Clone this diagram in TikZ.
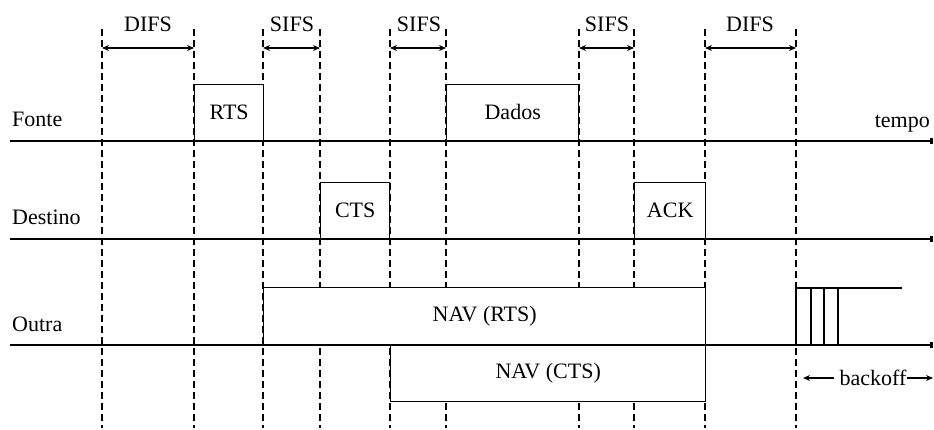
\documentclass[tikz,border=0pt]{standalone}
\usepackage{fontspec}
\setmainfont{Liberation Serif}
\usetikzlibrary{arrows.meta}
\begin{document}
\begin{tikzpicture}[x=1pt,y=-1pt,
  lbl/.style={font=\fontsize{22}{26}\selectfont, inner sep=0pt},
  dashline/.style={line width=1.3pt, dash pattern=on 7pt off 4pt},
  tline/.style={line width=1.4pt, -{Square[length=3pt,width=6pt]}},
  box/.style={draw, line width=1.4pt, fill=white, inner sep=0pt, font=\fontsize{22}{26}\selectfont},
  dim/.style={line width=1.2pt, {Stealth[length=7pt,width=6pt]}-{Stealth[length=7pt,width=6pt]}},
  bkarrow/.style={line width=1.2pt, -{Stealth[length=7pt,width=6pt]}}]
\useasboundingbox (0,0) rectangle (934,430);
% dashed time marks
\foreach \x [count=\i] in {102,194,263,320,390,446,579,634,705,796} {
  \coordinate (top\i) at (\x,29);
  \coordinate (bot\i) at (\x,428);
  \coordinate (d\i) at (\x,48);
  \draw[dashline] (top\i) -- (bot\i);
}
% interval dimension arrows
\draw[dim] (d1) -- (d2);
\draw[dim] (d3) -- (d4);
\draw[dim] (d5) -- (d6);
\draw[dim] (d7) -- (d8);
\draw[dim] (d9) -- (d10);
\node[lbl, anchor=base] (difs1) at (148,32) {DIFS};
\node[lbl, anchor=base] (sifs1) at (292,32) {SIFS};
\node[lbl, anchor=base] (sifs2) at (419,32) {SIFS};
\node[lbl, anchor=base] (sifs3) at (607,32) {SIFS};
\node[lbl, anchor=base] (difs2) at (750,32) {DIFS};
% timelines
\coordinate (fs) at (10,141); \coordinate (fe) at (933,141);
\coordinate (ds) at (10,239); \coordinate (de) at (933,239);
\coordinate (os) at (10,345); \coordinate (oe) at (933,345);
\draw[tline] (fs) -- (fe);
\draw[tline] (ds) -- (de);
\draw[tline] (os) -- (oe);
\node[lbl, anchor=base west] (fonte) at (12,127) {Fonte};
\node[lbl, anchor=base west] (destino) at (12,225) {Destino};
\node[lbl, anchor=base west] (outra) at (12,331) {Outra};
\node[lbl, anchor=base east] (tempo) at (930,128) {tempo};
% frames
\node[box, minimum width=69pt, minimum height=56pt, anchor=south west] (rts) at (194,141) {RTS};
\node[box, minimum width=132pt, minimum height=56pt, anchor=south west] (dados) at (446,141) {Dados};
\node[box, minimum width=69pt, minimum height=56pt, anchor=south west] (cts) at (320,239) {CTS};
\node[box, minimum width=71pt, minimum height=56pt, anchor=south west] (ack) at (634,239) {ACK};
\node[box, minimum width=442pt, minimum height=57pt, anchor=south west] (navrts) at (263,345) {NAV (RTS)};
\node[box, minimum width=315pt, minimum height=56pt, anchor=north west] (navcts) at (390,345) {NAV (CTS)};
% backoff slots
\coordinate (b0) at (796,345); \coordinate (b0t) at (796,288);
\coordinate (bend) at (902,288);
\draw[line width=1.4pt] (b0) -- (b0t) -- (bend);
\foreach \x [count=\j] in {811,824,838} {
  \coordinate (s\j t) at (\x,288);
  \coordinate (s\j b) at (\x,345);
  \draw[line width=1.2pt] (s\j t) -- (s\j b);
}
\node[lbl] (backoff) at (873,378) {backoff};
\coordinate (bkl) at (803,378);
\coordinate (bkr) at (933,378);
\draw[bkarrow] ([xshift=-5pt]backoff.west) -- (bkl);
\draw[bkarrow] (backoff.east) -- (bkr);
\end{tikzpicture}
\end{document}
